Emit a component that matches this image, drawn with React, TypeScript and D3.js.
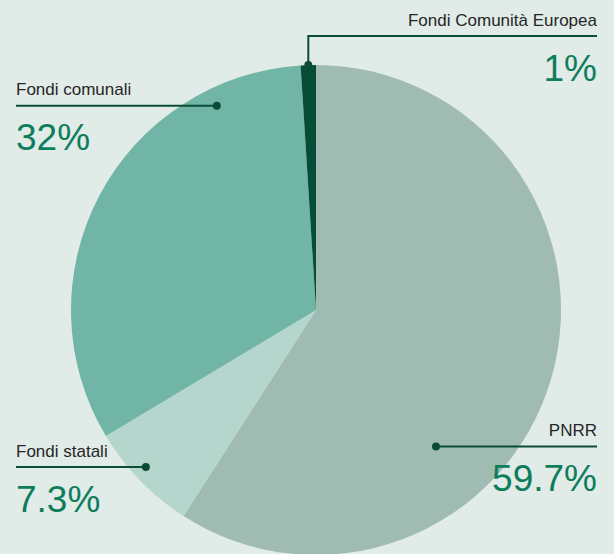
import { useRef, useEffect } from 'react';
import * as d3 from 'd3';

// quote per fonte di finanziamento: slice shares as drawn, and the printed labels
const categories = ['PNRR', 'Fondi statali', 'Fondi comunali', 'Fondi Comunità Europea'];
const values = [59.1, 7.3, 32.6, 1.0];
const valueLabels = ['59.7%', '7.3%', '32%', '1%'];
const colors = ['#a0bcb2', '#b4d6cc', '#70b5a6', '#064d37'];

// where each leader touches the pie (degrees clockwise from 12 o'clock, fraction of radius)
const anchorAngle = [138.7, 227.3, 334.1, null];
const anchorRadius = [0.742, 0.945, 0.927, 1];

export default function App() {
  const svgRef = useRef(null);

  useEffect(() => {
    const width = 614;
    const height = 554;
    const cx = 316;
    const cy = 310;
    const r = 245;
    const leftX = 16;
    const rightX = 597;

    const svg = d3.select(svgRef.current);
    svg.selectAll('*').remove();

    svg.append('rect').attr('width', width).attr('height', height).attr('fill', '#e1ebe7');

    const pie = d3.pie().sort(null).value((d) => d)(values);
    const arc = d3.arc().innerRadius(0).outerRadius(r);

    const g = svg.append('g').attr('transform', `translate(${cx},${cy})`);
    g.selectAll('path')
      .data(pie)
      .join('path')
      .attr('d', arc)
      .attr('fill', (_, i) => colors[i]);

    const pos = (i) => {
      const p = pie[i];
      const a = anchorAngle[i] != null ? (anchorAngle[i] * Math.PI) / 180 : (p.startAngle + p.endAngle) / 2;
      const rr = r * anchorRadius[i];
      return [cx + rr * Math.sin(a), cy - rr * Math.cos(a)];
    };

    const lineColor = '#0a4c38';
    const labelFont = "'Liberation Sans', Arial, sans-serif";

    // label layout: side, y of leader line (null = level with the dot)
    const layout = [
      { side: 'right', lineY: null },
      { side: 'left', lineY: null },
      { side: 'left', lineY: null },
      { side: 'right', lineY: 36 },
    ];

    categories.forEach((name, i) => {
      const [px, py] = pos(i);
      const { side, lineY } = layout[i];
      const ly = lineY ?? py;
      const tx = side === 'left' ? leftX : rightX;
      const anchor = side === 'left' ? 'start' : 'end';

      const d = lineY != null ? `M${px},${py}V${ly}H${tx}` : `M${px},${py}H${tx}`;
      svg.append('path').attr('d', d).attr('fill', 'none').attr('stroke', lineColor).attr('stroke-width', 2);
      svg.append('circle').attr('cx', px).attr('cy', py).attr('r', 4).attr('fill', lineColor);

      svg.append('text')
        .attr('x', tx)
        .attr('y', ly - 10.5)
        .attr('text-anchor', anchor)
        .attr('font-family', labelFont)
        .attr('font-size', 17)
        .attr('fill', '#262626')
        .text(name);

      svg.append('text')
        .attr('x', tx)
        .attr('y', ly + 44.5)
        .attr('text-anchor', anchor)
        .attr('font-family', labelFont)
        .attr('font-size', 37)
        .attr('fill', '#0e7d5c')
        .text(valueLabels[i]);
    });
  }, []);

  return (
    <svg
      ref={svgRef}
      width={614}
      height={554}
      style={{ position: 'absolute', left: 0, top: 0, display: 'block' }}
    ></svg>
  );
}
